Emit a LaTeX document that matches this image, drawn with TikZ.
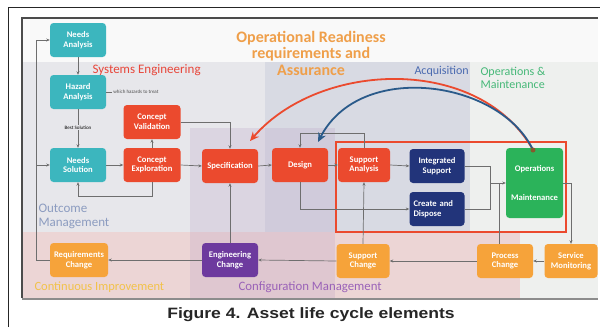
\documentclass[tikz,border=0pt]{standalone}
\usepackage{fontspec}
\setmainfont{Carlito}
\newfontfamily\capfont{Liberation Sans}
\usetikzlibrary{arrows.meta}

\definecolor{cteal}{HTML}{3CB6BE}
\definecolor{cred}{HTML}{EB4A2E}
\definecolor{cnavy}{HTML}{22347A}
\definecolor{cgreen}{HTML}{2BB35A}
\definecolor{corange}{HTML}{F6A33A}
\definecolor{cpurple}{HTML}{6D3A9E}
\definecolor{ctitle}{HTML}{EF9F4A}
\definecolor{cse}{HTML}{E8463A}
\definecolor{cacq}{HTML}{4A6AB0}
\definecolor{com}{HTML}{46B878}
\definecolor{cout}{HTML}{8C9CC0}
\definecolor{cci}{HTML}{F2C24A}
\definecolor{ccm}{HTML}{9A62B8}
\definecolor{cline}{HTML}{6E6E6E}
\definecolor{cblue}{HTML}{2A5A8A}
\definecolor{bggray}{HTML}{E7E7EB}
\definecolor{bgacq}{HTML}{D8DAE3}
\definecolor{bgom}{HTML}{EEF0EE}
\definecolor{bgpink}{HTML}{ECD5D5}
\definecolor{bgpurple}{HTML}{B9A0C4}

\begin{document}
\begin{tikzpicture}[x=1pt,y=-1pt,
  box/.style={rounded corners=3.5pt, minimum width=56pt, minimum height=34pt,
    inner sep=1pt, text=white, align=center,
    font=\fontsize{8.6}{9.6}\selectfont\bfseries},
  conn/.style={draw=cline, line width=0.7pt, -{Stealth[length=3.5pt,width=3pt]}},
  plain/.style={draw=cline, line width=0.7pt},
  areatext/.style={font=\fontsize{13}{14}\selectfont, anchor=west, align=left},
  loop/.style={line width=1.8pt, -{Stealth[length=9pt,width=8pt]}}
]
\useasboundingbox (0,0) rectangle (601,327);
\fill[white] (0,0) rectangle (601,327);

% page frame
\draw[line width=1pt, black!85] (8,327) -- (8,7) -- (600,7);

% panel backgrounds
\fill[gray!5] (22,18) rectangle (598,62);
\fill[bggray] (22,62) rectangle (598,298);
\fill[bgacq] (265,62) rectangle (470,232);
\fill[bgom] (470,62) rectangle (598,298);
\fill[bgpink] (22,232) rectangle (520,298);
\fill[bgpurple, fill opacity=0.25] (190,128) rectangle (335,298);
\draw[line width=1.4pt, black!70] (22,298) -- (22,18) -- (598,18);
\draw[line width=1.4pt, black!45] (22,299) -- (598,299);

% area labels
\node[font=\fontsize{16}{16.5}\selectfont\bfseries, text=ctitle, align=center] (title) at (311,53)
  {Operational Readiness\\requirements and\\Assurance};
\node[areatext, text=cse] (lse) at (89,70) {Systems Engineering};
\node[areatext, text=cacq, font=\fontsize{12}{13}\selectfont] (lacq) at (411,71) {Acquisition};
\node[areatext, text=com, font=\fontsize{12}{13}\selectfont] (lom) at (477,78) {Operations \&\\Maintenance};
\node[areatext, text=cout] (lout) at (35,216) {Outcome\\Management};
\node[areatext, text=cci, font=\fontsize{12.5}{13}\selectfont] (lci) at (31,287) {Continuous Improvement};
\node[areatext, text=ccm, font=\fontsize{12.8}{13}\selectfont] (lcm) at (235,287) {Configuration Management};

% lifecycle steps
\node[box, fill=cteal] (needsa) at (78,40) {Needs\\Analysis};
\node[box, fill=cteal] (hazard) at (78,92) {Hazard\\Analysis};
\node[box, fill=cteal] (needss) at (78,165) {Needs\\Solution};
\node[box, fill=cred, minimum width=57pt] (conval) at (152,122) {Concept\\Validation};
\node[box, fill=cred, minimum width=57pt] (conexp) at (152,165) {Concept\\Exploration};
\node[box, fill=cred] (spec) at (230,166) {Specification};
\node[box, fill=cred] (design) at (300,165) {Design};
\node[box, fill=cred, minimum width=52pt] (supa) at (364,165) {Support\\Analysis};
\node[box, fill=cnavy, minimum width=55pt] (intsup) at (437,166) {Integrated\\Support};
\node[box, fill=cnavy, minimum width=55pt, align=left, text width=47pt] (create) at (437,209) {Create and\\Dispose};
\node[box, fill=cgreen, minimum width=57pt, minimum height=70pt] (ops) at (534.5,183) {Operations\\[20pt]Maintenance};
\node[box, fill=corange, minimum width=58pt] (reqc) at (79,260) {Requirements\\Change};
\node[box, fill=cpurple] (engc) at (230,260) {Engineering\\Change};
\node[box, fill=corange, minimum width=53pt] (supc) at (363,261) {Support\\Change};
\node[box, fill=corange] (procc) at (505,261) {Process\\Change};
\node[box, fill=corange, minimum width=53pt] (svcm) at (571,261) {Service\\Monitoring};

% support boundary
\draw[cred, line width=1.6pt] (336,142) rectangle (566,232);

% junction points
\coordinate (lbus) at (36,40);
\coordinate (lbus2) at (36,165);
\coordinate (jops) at (490,183);
\coordinate (jproc) at (499,183);
\coordinate (hzend) at (112,92);

% connectors
\draw[conn] (reqc.west) -| (lbus) -- (needsa.west);
\draw[conn] (lbus2) -- (needss.west);
\draw[conn] (needsa.south) -- (hazard.north);
\draw[conn] (hazard.south) -- (needss.north)
  node[pos=0.48, fill=bggray, inner sep=1pt, text=black, font=\fontsize{5}{5}\selectfont] (bestsol) {Best Solution};
\draw[plain] (hazard.east) -- (hzend)
  node[right, inner sep=1pt, text=black!70, font=\fontsize{5}{5}\selectfont] (hznote) {which hazards to treat};
\draw[conn] (needss.east) -- (conexp.west);
\draw[conn] (conexp.south) -- ++(0,14) -| (needss.south);
\draw[conn] (conexp.north) -- (conval.south);
\draw[conn] (conval.east) -| (spec.north);
\draw[conn] (conexp.east) -- (spec.west);
\draw[conn] (spec.east) -- (design.west);
\draw[conn] (design.east) -- (supa.west);
\draw[conn] (supa.east) -- (intsup.west);
\draw[conn] (supa.north) -- ++(0,-14) -| (design.north);
\draw[conn] (design.south) |- (create.west);
\draw[plain] (intsup.east) -| (jops);
\draw[plain] (create.east) -| (jops);
\draw[conn] (jops) -- (ops.west);
\draw[plain] (procc.north -| jproc) -- (jproc);
\draw[conn] (ops.east) -| (svcm.north);
\draw[conn] (svcm.west) -- (procc.east);
\draw[conn] (procc.west) -- (supc.east);
\draw[conn] (supc.west) -- (engc.east);
\draw[conn] (engc.west) -- (reqc.east);
\draw[conn] (engc.north) -- (spec.south);
\draw[conn] (supc.north) -- (supa.south);

% feedback loops from operations
\coordinate (opsfb) at (533,150);
\draw[loop, draw=cred] (opsfb) .. controls (480,55) and (320,60) .. (250,141);
\draw[loop, draw=cblue] (opsfb) .. controls (500,80) and (360,60) .. (318,142);
\fill[brown!70!black] (opsfb) circle (2.5pt);

% caption
\node[font=\capfont\bfseries\fontsize{15}{16}\selectfont, text=black!85] (caption) at (311,315)
  {\scalebox{1.17}[1]{Figure 4. Asset life cycle elements}};
\end{tikzpicture}
\end{document}
